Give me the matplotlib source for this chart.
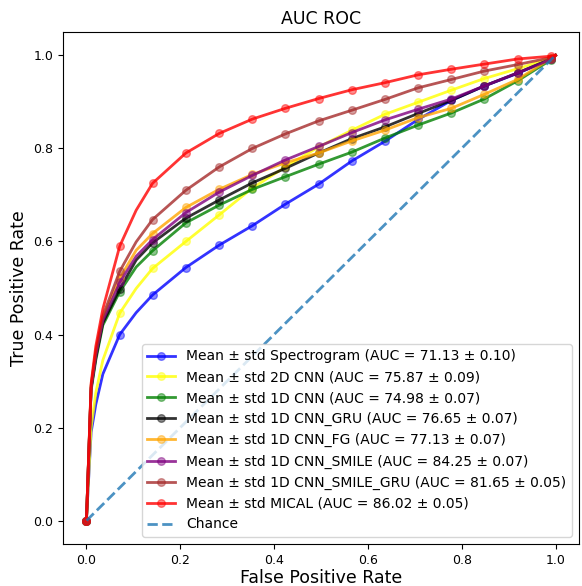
import matplotlib
matplotlib.use('Agg')
import matplotlib.pyplot as plt
from matplotlib.colors import to_rgba

# false positive rate grid
fpr = [0, 0.010, 0.020, 0.035, 0.071, 0.106, 0.141, 0.212, 0.283, 0.354,
       0.424, 0.495, 0.566, 0.636, 0.707, 0.778, 0.848, 0.919, 0.990, 1.0]

# mean true positive rate per model
tpr_spectrogram = [0, 0.19, 0.25, 0.315, 0.400, 0.447, 0.485, 0.544, 0.592, 0.634,
                   0.680, 0.723, 0.773, 0.815, 0.862, 0.903, 0.934, 0.961, 0.992, 1.0]
tpr_2d_cnn = [0, 0.20, 0.275, 0.345, 0.446, 0.499, 0.542, 0.600, 0.657, 0.715,
              0.760, 0.803, 0.839, 0.873, 0.899, 0.925, 0.950, 0.971, 0.994, 1.0]
tpr_1d_cnn = [0, 0.28, 0.345, 0.42, 0.492, 0.545, 0.580, 0.640, 0.678, 0.712,
              0.739, 0.766, 0.792, 0.822, 0.850, 0.876, 0.906, 0.945, 0.990, 1.0]
tpr_cnn_gru = [0, 0.285, 0.35, 0.425, 0.498, 0.560, 0.597, 0.650, 0.689, 0.726,
               0.757, 0.790, 0.821, 0.846, 0.875, 0.903, 0.934, 0.962, 0.992, 1.0]
tpr_cnn_fg = [0, 0.29, 0.36, 0.435, 0.521, 0.581, 0.617, 0.673, 0.712, 0.744,
              0.769, 0.790, 0.816, 0.839, 0.866, 0.886, 0.916, 0.948, 0.993, 1.0]
tpr_cnn_smile = [0, 0.285, 0.355, 0.43, 0.512, 0.568, 0.604, 0.662, 0.706, 0.742,
                 0.775, 0.804, 0.834, 0.861, 0.884, 0.906, 0.934, 0.962, 0.991, 1.0]
tpr_cnn_smile_gru = [0, 0.29, 0.365, 0.44, 0.536, 0.599, 0.647, 0.710, 0.760, 0.800,
                     0.831, 0.859, 0.882, 0.905, 0.930, 0.948, 0.966, 0.980, 0.995, 1.0]
tpr_mical = [0, 0.295, 0.375, 0.455, 0.590, 0.667, 0.725, 0.790, 0.832, 0.863,
             0.886, 0.907, 0.926, 0.941, 0.958, 0.970, 0.981, 0.992, 0.998, 1.0]

names = ['Spectrogram', '2D CNN', '1D CNN', '1D CNN_GRU', '1D CNN_FG',
         '1D CNN_SMILE', '1D CNN_SMILE_GRU', 'MICAL']
auc_means = [71.13, 75.87, 74.98, 76.65, 77.13, 84.25, 81.65, 86.02]
auc_stds = [0.10, 0.09, 0.07, 0.07, 0.07, 0.07, 0.05, 0.05]
colors = ['blue', 'yellow', 'green', 'black', 'orange', 'purple', 'brown', 'red']

all_tpr = [tpr_spectrogram, tpr_2d_cnn, tpr_1d_cnn, tpr_cnn_gru, tpr_cnn_fg,
           tpr_cnn_smile, tpr_cnn_smile_gru, tpr_mical]

# markers only on the regular grid points
marker_idx = [0] + list(range(4, len(fpr) - 1))
marker_idx.remove(5)

fig = plt.figure(figsize=(5.82, 5.86), dpi=100)
ax = fig.add_axes([0.1082, 0.0717, 0.8866, 0.8737])

for name, m, s, c, tpr in zip(names, auc_means, auc_stds, colors, all_tpr):
    ax.plot(fpr, tpr, color=to_rgba(c, 0.8), lw=2, marker='o', markersize=5.5,
            mfc=to_rgba(c, 0.45), mec=to_rgba(c, 0.45),
            markevery=marker_idx,
            label=f'Mean \u00b1 std {name} (AUC = {m:.2f} \u00b1 {s:.2f})')

ax.plot([0, 1], [0, 1], linestyle='--', lw=2, color='C0', alpha=0.8, label='Chance')

ax.set_xlim(-0.05, 1.05)
ax.set_ylim(-0.05, 1.05)
ax.set_title('AUC ROC', fontsize=12.5)
ax.set_xlabel('False Positive Rate', fontsize=12.5, labelpad=2)
ax.set_ylabel('True Positive Rate', fontsize=12.5)
ax.tick_params(labelsize=9)
ax.legend(loc='lower right', fontsize=10)

fig.savefig('out.png', dpi=100)
